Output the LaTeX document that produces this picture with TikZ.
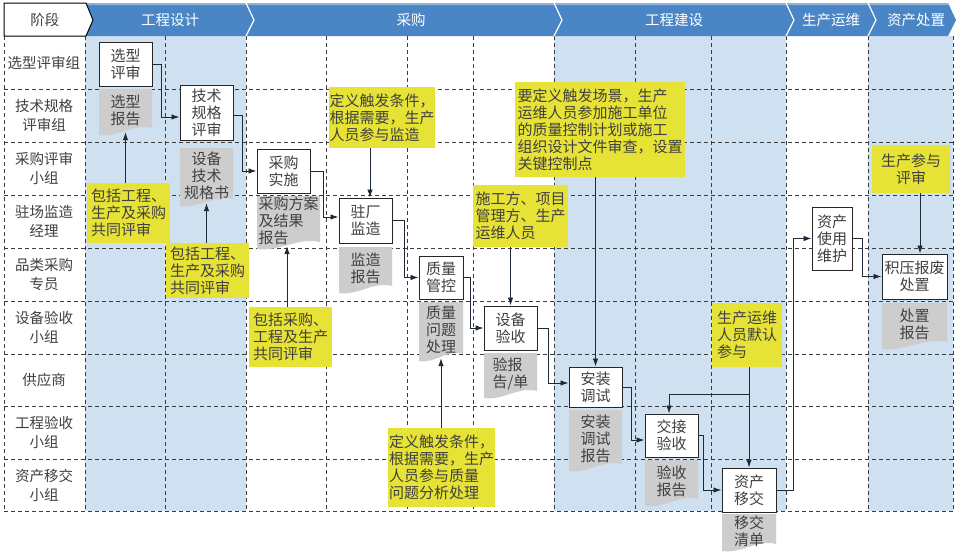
\documentclass[tikz,border=0pt]{standalone}
\usepackage{fontspec}
\setmainfont{Noto Sans CJK SC}
\usetikzlibrary{arrows.meta,calc}
\definecolor{hdrblue}{HTML}{4A86C5}
\definecolor{hdrlight}{HTML}{8DB2DA}
\definecolor{lblue}{HTML}{CFE0F1}
\definecolor{noteyel}{HTML}{E6E236}
\definecolor{docgray}{HTML}{CDCDCD}
\definecolor{gridc}{HTML}{3C3C3C}
\definecolor{txtc}{HTML}{404040}
\definecolor{arrc}{HTML}{1E2A38}
\tikzset{
 gridline/.style={draw=gridc, line width=0.8pt, dash pattern=on 4pt off 3pt},
 proc/.style={draw=black!85, fill=white, line width=1pt, inner sep=0pt, align=center, text=txtc, font=\fontsize{15}{17}\selectfont},
 doctext/.style={inner sep=0pt, text=txtc, font=\fontsize{15}{17}\selectfont},
 notebox/.style={fill=noteyel, inner sep=0pt, text=txtc, font=\fontsize{15}{17}\selectfont},
 lane/.style={text=txtc, align=center, font=\fontsize{14.5}{19}\selectfont},
 hdr/.style={text=white, font=\fontsize{14.5}{16}\selectfont},
 arr/.style={draw=arrc, line width=0.9pt, -{Latex[length=8pt,width=5.5pt]}},
 conn/.style={draw=arrc, line width=0.9pt},
}
\newcommand\procbox[6]{\node[proc, minimum width={(#4)-(#2)}, minimum height={(#5)-(#3)}] (#1) at ({((#2)+(#4))/2},{((#3)+(#5))/2}) {#6};}
\newcommand\docbox[7]{%
 \fill[docgray] (#2,#3) -- (#4,#3) -- (#4,{(#5)-4}) .. controls ({(#4)-0.35*((#4)-(#2))},{(#5)-9}) and ({(#2)+0.35*((#4)-(#2))},{(#5)+6}) .. (#2,{(#5)+3}) -- cycle;
 \node[doctext, align=#6, minimum width={(#4)-(#2)}, minimum height={(#5)-(#3)}] (#1) at ({((#2)+(#4))/2},{((#3)+(#5))/2}) {#7};}
\newcommand\notebx[7]{\node[notebox, align=#6, minimum width={(#4)-(#2)}, minimum height={(#5)-(#3)}] (#1) at ({((#2)+(#4))/2},{((#3)+(#5))/2}) {#7};}
\begin{document}
\begin{tikzpicture}[x=1pt,y=-1pt]
\useasboundingbox[fill=white] (0,0) rectangle (958,554);
% shaded phase areas
\fill[lblue] (85,36) rectangle (246,511);
\fill[lblue] (554,36) rectangle (786,511);
\fill[lblue] (868,36) rectangle (953,511);
% grid
\foreach \yy in {89,142,195,248,301,354,406,459,511} \draw[gridline] (4,\yy) -- (953,\yy);
\foreach \xx in {4,85,165,246,326,407,473,554,635,711,786,868,953} \draw[gridline] (\xx,36) -- (\xx,511);
% header
\fill[hdrblue] (86,3) -- (948,3) -- (956,20) -- (948,36) -- (86,36) -- (93,20) -- cycle;
\fill[hdrlight] (86,3) -- (948,3) -- (949,5) -- (87,5) -- cycle;
\foreach \xx in {246,554,786,868} \draw[white, line width=1.2pt] (\xx,3) -- (\xx+8,20) -- (\xx,36);
\filldraw[fill=white, draw=black, line width=1pt] (4,3) -- (86,3) -- (93,20) -- (86,36) -- (4,36) -- cycle;
\node[text=txtc, font=\fontsize{14.5}{16}\selectfont] (h0) at (45,20) {阶段};
\node[hdr] (h1) at (170,20) {工程设计};
\node[hdr] (h2) at (411,20) {采购};
\node[hdr] (h3) at (674,20) {工程建设};
\node[hdr] (h4) at (831,20) {生产运维};
\node[hdr] (h5) at (916,20) {资产处置};
% lane labels
\node[lane] (l1) at (44,62.5) {选型评审组};
\node[lane] (l2) at (44,115.5) {技术规格\\评审组};
\node[lane] (l3) at (44,168.5) {采购评审\\小组};
\node[lane] (l4) at (44,221.5) {驻场监造\\经理};
\node[lane] (l5) at (44,274.5) {品类采购\\专员};
\node[lane] (l6) at (44,327.5) {设备验收\\小组};
\node[lane] (l7) at (44,380) {供应商};
\node[lane] (l8) at (44,432.5) {工程验收\\小组};
\node[lane] (l9) at (44,485) {资产移交\\小组};
% documents
\docbox{d1}{99}{89}{152}{132}{center}{选型\\报告}
\docbox{d2}{180}{148}{233}{203}{center}{设备\\技术\\规格书}
\docbox{d3}{257}{196}{320}{246}{left}{采购方案\\及结果\\报告}
\docbox{d4}{339}{247}{392}{290}{center}{监造\\报告}
\docbox{d5}{419}{302}{463}{358}{center}{质量\\问题\\处理}
\docbox{d6}{484}{353}{537}{395}{left}{验报\\告/单}
\docbox{d7}{569}{410}{622}{468}{center}{安装\\调试\\报告}
\docbox{d8}{645}{460}{698}{503}{center}{验收\\报告}
\docbox{d9}{722}{514}{776}{548}{center}{移交\\清单}
\docbox{d10}{882}{303}{947}{346}{center}{处置\\报告}
% process boxes
\procbox{p1}{99}{42}{152}{86}{选型\\评审}
\procbox{p2}{180}{85}{233}{140}{技术\\规格\\评审}
\procbox{p3}{257}{149}{310}{193}{采购\\实施}
\procbox{p4}{339}{198}{392}{243}{驻厂\\监造}
\procbox{p5}{419}{256}{463}{299}{质量\\管控}
\procbox{p6}{484}{306}{537}{350}{设备\\验收}
\procbox{p7}{569}{367}{622}{407}{安装\\调试}
\procbox{p8}{645}{414}{698}{457}{交接\\验收}
\procbox{p9}{722}{468}{776}{512}{资产\\移交}
\procbox{p10}{812}{207}{852}{270}{资产\\使用\\维护}
\procbox{p11}{882}{254}{947}{299}{积压报废\\处置}
% notes
\notebx{n1}{87}{183}{170}{243}{left}{包括工程、\\生产及采购\\共同评审}
\notebx{n2}{166}{243}{249}{298}{left}{包括工程、\\生产及采购\\共同评审}
\notebx{n3}{329}{87}{435}{148}{left}{定义触发条件，\\根据需要，生产\\人员参与监造}
\notebx{n4}{249}{307}{332}{367}{left}{包括采购、\\工程及生产\\共同评审}
\notebx{n5}{388}{428}{495}{507}{left}{定义触发条件，\\根据需要，生产\\人员参与质量\\问题分析处理}
\notebx{n6}{473}{185}{568}{247}{left}{施工方、项目\\管理方、生产\\运维人员}
\notebx{n7}{515}{82}{685}{177}{left}{要定义触发场景，生产\\运维人员参加施工单位\\的质量控制计划或施工\\组织设计文件审查，设置\\关键控制点}
\notebx{n8}{712}{303}{782}{367}{left}{生产运维\\人员默认\\参与}
\notebx{n9}{872}{145}{950}{193}{center}{生产参与\\评审}
% flow connectors
\draw[arr] (p1.east) -- ++(9,0) |- ([yshift=-4.5pt]p2.west);
\draw[arr] ([yshift=-2.5pt]p2.east) -- ++(9,0) |- (p3.west);
\draw[arr] (p3.east) -- ++(13,0) |- ([yshift=3.5pt]p4.west);
\draw[arr] (p4.east) -- ++(12,0) |- (p5.west);
\draw[arr] (p5.east) -- ++(7,0) |- (p6.west);
\draw[arr] (p6.east) -- ++(11,0) |- ([yshift=4pt]p7.west);
\draw[arr] (p7.east) -- ++(9,0) |- ([yshift=-4.5pt]p8.west);
\draw[arr] (p8.east) -- ++(5,0) |- (p9.west);
\draw[arr] (p9.east) -- ++(17,0) |- (p10.west);
\draw[arr] (p10.east) -- ++(10,0) |- (p11.west);
% note connectors
\draw[arr] (d1.south |- n1.north) -- (d1.south);
\draw[arr] (d2.south |- n2.north) -- (d2.south);
\draw[arr] ([xshift=-1.5pt]d3.south |- n4.north) -- ([xshift=-1.5pt]d3.south);
\draw[arr] ([xshift=4.5pt]p4.north |- n3.south) -- ([xshift=4.5pt]p4.north);
\draw[arr] (d5.south |- n5.north) -- (d5.south);
\draw[arr] (p6.north |- n6.south) -- (p6.north);
\draw[arr] (p7.north |- n7.south) -- (p7.north);
\coordinate (br) at (749,394);
\draw[conn] (br |- n8.south) -- (br);
\draw[arr] (br) -- (p9.north);
\draw[arr] (br) -| ([xshift=-2.5pt]p8.north);
\draw[arr] ([xshift=5.5pt]p11.north |- n9.south) -- ([xshift=5.5pt]p11.north);
\end{tikzpicture}
\end{document}
